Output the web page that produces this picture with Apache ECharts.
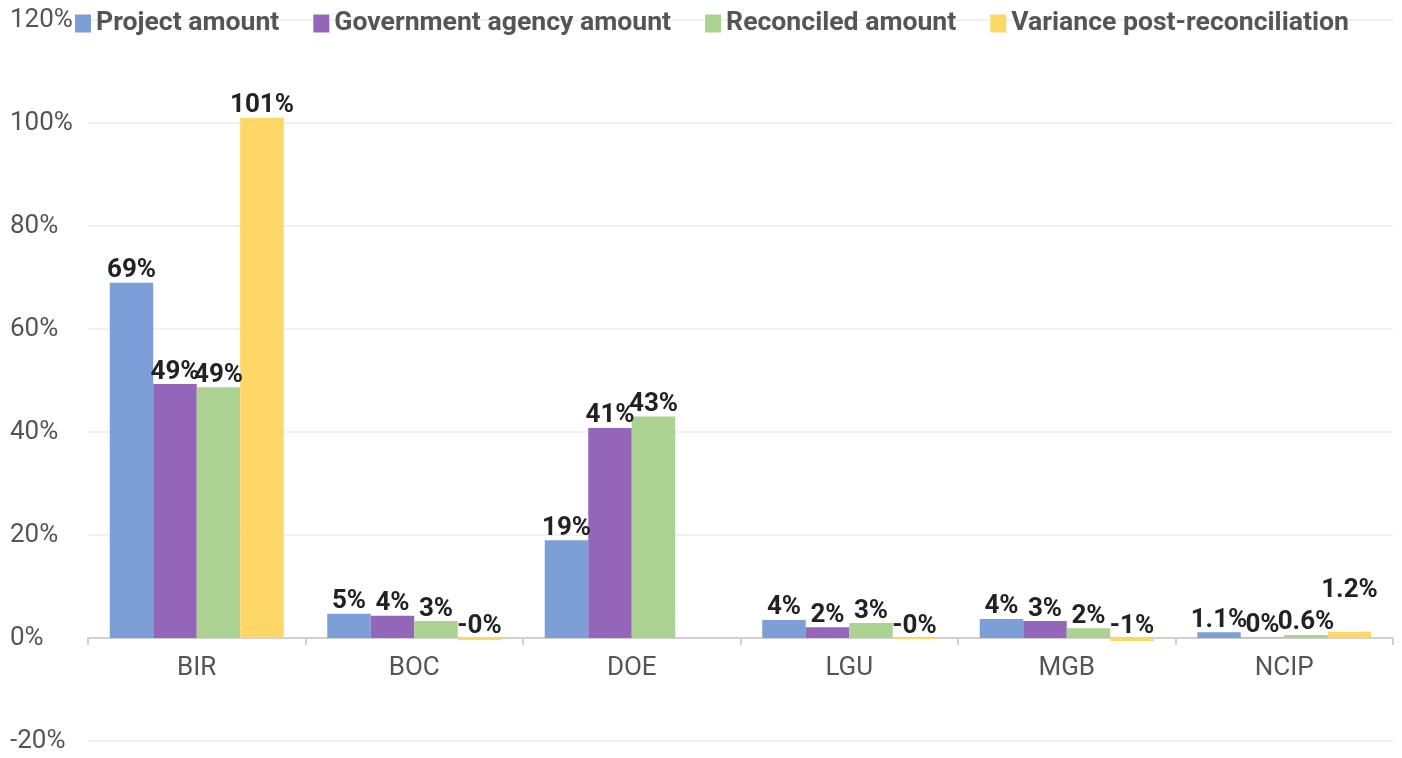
<!DOCTYPE html>
<html>
<head>
<meta charset="utf-8">
<script src="https://cdn.jsdelivr.net/npm/echarts@6/dist/echarts.min.js"></script>
<style>html,body{margin:0;padding:0;background:#fff}#c{width:1402px;height:758px}</style>
</head>
<body>
<div id="c"></div>
<script>
const categories = ['BIR', 'BOC', 'DOE', 'LGU', 'MGB', 'NCIP'];
const labelDecimals = [0, 0, 0, 0, 0, 1];
const projectAmount = [69, 4.7, 19, 3.5, 3.7, 1.1];
const governmentAmount = [49.3, 4.3, 40.8, 2.1, 3.3, 0.04];
const reconciledAmount = [48.7, 3.3, 43, 2.9, 1.9, 0.6];
const variancePost = [101, -0.4, null, -0.2, -0.6, 1.2];
const seriesNames = ['Project amount', 'Government agency amount', 'Reconciled amount', 'Variance post-reconciliation'];
const colors = ['#7b9fd6', '#9466b9', '#acd291', '#fed767'];
const yTicks = [-20, 0, 20, 40, 60, 80, 100, 120];

const font = 'Roboto, "Noto Sans", sans-serif';
function fmt(p) {
  if (p.value == null) return '';
  let s = Number(p.value).toFixed(labelDecimals[p.dataIndex]);
  if (s.indexOf('.') >= 0) s = s.replace(/\.0+$/, '');
  return s + '%';
}
const datas = [projectAmount, governmentAmount, reconciledAmount, variancePost];
const chart = echarts.init(document.getElementById('c'));
chart.setOption({
  animation: false,
  color: colors,
  legend: {
    top: 5, left: 70,
    itemWidth: 16, itemHeight: 18, itemGap: 34,
    icon: 'rect',
    textStyle: { fontFamily: font, fontSize: 26.6, fontWeight: 'bold', color: '#555' }
  },
  grid: { left: 88, right: 9, top: 20, bottom: 17, containLabel: false,
          outerBounds: { left: 0, top: 0, right: 0, bottom: -60 } },
  xAxis: {
    type: 'category', data: categories,
    axisLine: { lineStyle: { color: '#d0d0d0', width: 2 } },
    axisTick: { show: true, length: 7, lineStyle: { color: '#d0d0d0', width: 2 } },
    axisLabel: { fontFamily: font, fontSize: 26, color: '#555', margin: -86 }
  },
  yAxis: {
    type: 'value', min: yTicks[0], max: yTicks[yTicks.length - 1], interval: 20,
    axisLabel: { fontFamily: font, fontSize: 26, color: '#555', align: 'left', margin: 78, formatter: v => v + '%' },
    splitLine: { lineStyle: { color: '#f1f1f1', width: 2 } },
    axisLine: { show: false }, axisTick: { show: false }
  },
  series: seriesNames.map((n, i) => ({
    name: n, type: 'bar', data: datas[i],
    barGap: '0%', barCategoryGap: '20%',
    labelLayout: i === 3 ? function (p) { return p.dataIndex === 5 ? { dy: -29 } : {}; } : undefined,
    label: { show: true, position: 'top', distance: -1, fontFamily: font, fontSize: 26, fontWeight: 'bold', color: '#222', formatter: fmt }
  }))
});
</script>
</body>
</html>
